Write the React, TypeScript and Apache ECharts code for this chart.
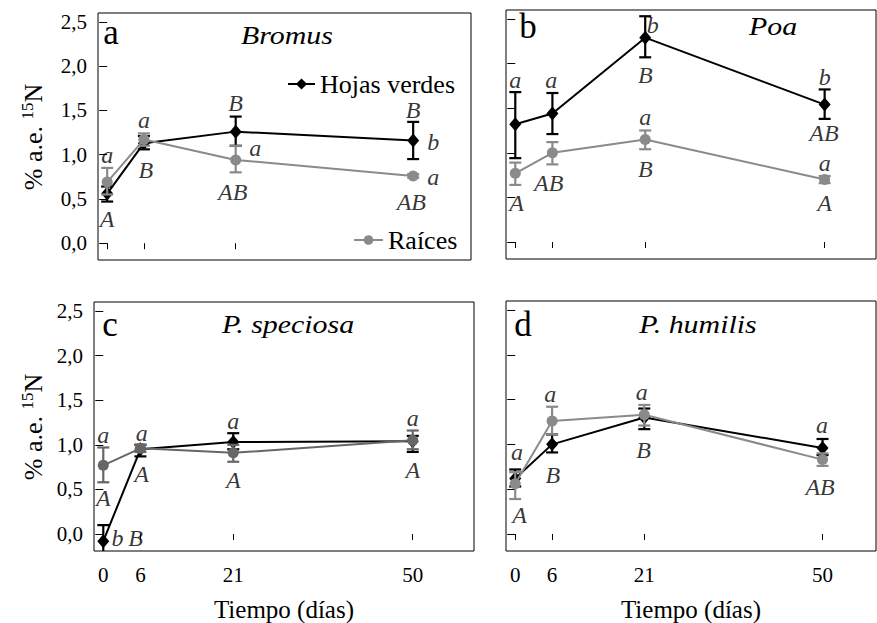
import React, { useEffect, useRef } from "react";
import * as echarts from "echarts";

// Sampling days (x positions) and tick values
const days = [0, 6, 21, 50];
const dayTicks = [0, 6, 21, 50];
const yTicks = [0, 0.5, 1, 1.5, 2, 2.5];

// Bromus
const bromusHojas = [0.56, 1.13, 1.26, 1.16];
const bromusHojasLow = [0.47, 1.06, 1.1, 0.95];
const bromusHojasHigh = [0.64, 1.21, 1.43, 1.37];
const bromusRaices = [0.69, 1.17, 0.94, 0.76];
const bromusRaicesLow = [0.55, 1.1, 0.8, 0.74];
const bromusRaicesHigh = [0.85, 1.24, 1.1, 0.78];

// Poa
const poaHojas = [1.32, 1.44, 2.29, 1.54];
const poaHojasLow = [0.94, 1.21, 2.07, 1.38];
const poaHojasHigh = [1.68, 1.67, 2.53, 1.71];
const poaRaices = [0.77, 1.0, 1.15, 0.7];
const poaRaicesLow = [0.64, 0.87, 1.04, 0.66];
const poaRaicesHigh = [0.89, 1.12, 1.25, 0.74];

// P. speciosa
const speciosaHojas = [-0.08, 0.95, 1.03, 1.04];
const speciosaHojasLow = [-0.27, 0.87, 0.95, 0.92];
const speciosaHojasHigh = [0.1, 1.0, 1.13, 1.1];
const speciosaRaices = [0.77, 0.96, 0.91, 1.05];
const speciosaRaicesLow = [0.58, 0.92, 0.81, 0.95];
const speciosaRaicesHigh = [0.97, 1.0, 1.0, 1.16];

// P. humilis
const humilisHojas = [0.62, 1.0, 1.3, 0.96];
const humilisHojasLow = [0.53, 0.91, 1.17, 0.88];
const humilisHojasHigh = [0.72, 1.11, 1.4, 1.06];
const humilisRaices = [0.56, 1.26, 1.33, 0.83];
const humilisRaicesLow = [0.39, 1.11, 1.21, 0.76];
const humilisRaicesHigh = [0.69, 1.42, 1.44, 0.9];

// Significance letters: [day, value, letter] in data units
const bromusLetters: [number, number, string][] = [
  [0, 1.0, "a"], [0, 0.27, "A"], [6, 1.39, "a"], [6.3, 0.83, "B"],
  [21, 1.58, "B"], [24.2, 1.07, "a"], [20.5, 0.58, "AB"],
  [50, 1.5, "B"], [53.3, 1.14, "b"], [53.3, 0.75, "a"], [49.7, 0.47, "AB"],
];
const poaLetters: [number, number, string][] = [
  [0, 1.82, "a"], [5.8, 1.82, "a"], [22.2, 2.43, "b"], [21, 1.87, "B"],
  [50, 1.85, "b"], [49.9, 1.22, "AB"], [21, 1.4, "a"], [21, 0.82, "B"],
  [50, 0.89, "a"], [50, 0.44, "A"], [5.4, 0.66, "AB"], [0.2, 0.44, "A"],
];
const speciosaLetters: [number, number, string][] = [
  [0, 1.11, "a"], [0, 0.4, "A"], [2.3, -0.04, "b"], [5.2, -0.04, "B"],
  [6.2, 1.13, "a"], [6.2, 0.67, "A"], [21, 1.27, "a"], [21, 0.61, "A"],
  [50, 1.3, "a"], [50, 0.72, "A"],
];
const humilisLetters: [number, number, string][] = [
  [0.3, 0.91, "a"], [0.7, 0.21, "A"], [5.7, 1.56, "a"], [6.1, 0.66, "B"],
  [20.6, 1.58, "a"], [20.9, 0.94, "B"], [49.9, 1.22, "a"], [49.6, 0.52, "AB"],
];

const SERIF = "Liberation Serif";

type Panel = {
  tag: string;
  species: string;
  hojas: number[];
  hojasLow: number[];
  hojasHigh: number[];
  raices: number[];
  raicesLow: number[];
  raicesHigh: number[];
  letters: [number, number, string][];
  grid: { left: number; top: number; width: number; height: number };
  xMax: number;
  yLabels: boolean;
  xLabels: boolean;
  grey: string;
  tagPos: [number, number];
  speciesPos: [number, number];
};

const panels: Panel[] = [
  {
    tag: "a", species: "Bromus",
    hojas: bromusHojas, hojasLow: bromusHojasLow, hojasHigh: bromusHojasHigh,
    raices: bromusRaices, raicesLow: bromusRaicesLow, raicesHigh: bromusRaicesHigh,
    letters: bromusLetters,
    grid: { left: 98, top: 13, width: 373, height: 247 }, xMax: 59.45,
    yLabels: true, xLabels: false, grey: "#8a8a8a",
    tagPos: [111, 32], speciesPos: [287, 35],
  },
  {
    tag: "b", species: "Poa",
    hojas: poaHojas, hojasLow: poaHojasLow, hojasHigh: poaHojasHigh,
    raices: poaRaices, raicesLow: poaRaicesLow, raicesHigh: poaRaicesHigh,
    letters: poaLetters,
    grid: { left: 506, top: 10, width: 370, height: 249 }, xMax: 58.3,
    yLabels: false, xLabels: false, grey: "#8a8a8a",
    tagPos: [528, 26], speciesPos: [773, 26],
  },
  {
    tag: "c", species: "P. speciosa",
    hojas: speciosaHojas, hojasLow: speciosaHojasLow, hojasHigh: speciosaHojasHigh,
    raices: speciosaRaices, raicesLow: speciosaRaicesLow, raicesHigh: speciosaRaicesHigh,
    letters: speciosaLetters,
    grid: { left: 94, top: 302, width: 380, height: 250 }, xMax: 59.9,
    yLabels: true, xLabels: true, grey: "#666666",
    tagPos: [110, 324], speciesPos: [288, 324],
  },
  {
    tag: "d", species: "P. humilis",
    hojas: humilisHojas, hojasLow: humilisHojasLow, hojasHigh: humilisHojasHigh,
    raices: humilisRaices, raicesLow: humilisRaicesLow, raicesHigh: humilisRaicesHigh,
    letters: humilisLetters,
    grid: { left: 506, top: 301, width: 370, height: 250 }, xMax: 58.7,
    yLabels: false, xLabels: true, grey: "#8a8a8a",
    tagPos: [523, 324], speciesPos: [698, 324],
  },
];

// Vertical error bar with caps, clipped to the plotting box
function errorBarRenderer(color: string, width: number) {
  return (params: any, api: any) => {
    const x = api.value(0);
    const pLo = api.coord([x, api.value(1)]);
    const pHi = api.coord([x, api.value(2)]);
    const cs = params.coordSys;
    const yTop = Math.max(pHi[1], cs.y);
    const yBot = Math.min(pLo[1], cs.y + cs.height);
    const cx = pLo[0];
    const hw = 6;
    const style = { stroke: color, lineWidth: width };
    const children: any[] = [
      { type: "line", shape: { x1: cx, y1: yTop, x2: cx, y2: yBot }, style },
    ];
    if (pHi[1] >= cs.y) {
      children.push({ type: "line", shape: { x1: cx - hw, y1: pHi[1], x2: cx + hw, y2: pHi[1] }, style });
    }
    if (pLo[1] <= cs.y + cs.height) {
      children.push({ type: "line", shape: { x1: cx - hw, y1: pLo[1], x2: cx + hw, y2: pLo[1] }, style });
    }
    return { type: "group", children };
  };
}

function buildOption() {
  const grid: any[] = [];
  const xAxis: any[] = [];
  const yAxis: any[] = [];
  const series: any[] = [];
  const graphic: any[] = [];

  panels.forEach((p, i) => {
    grid.push({ ...p.grid, show: true, borderColor: "#000", borderWidth: 1, backgroundColor: "transparent" });

    xAxis.push({
      type: "value",
      gridIndex: i,
      min: -1.5,
      max: p.xMax,
      offset: 2,
      axisLine: { show: false },
      splitLine: { show: false },
      axisTick: { show: true, customValues: dayTicks, length: 6, lineStyle: { color: "#000", width: 1 } },
      axisLabel: {
        show: p.xLabels,
        customValues: dayTicks,
        margin: 11,
        color: "#000",
        fontFamily: SERIF,
        fontSize: 21,
      },
      name: p.xLabels ? "Tiempo (días)" : "",
      nameLocation: "middle",
      nameGap: 44,
      nameTextStyle: { color: "#000", fontFamily: SERIF, fontSize: 25 },
    });

    yAxis.push({
      type: "value",
      gridIndex: i,
      min: -0.19,
      max: 2.6,
      axisLine: { show: false },
      splitLine: { show: false },
      axisTick: { show: true, customValues: yTicks, length: 8, lineStyle: { color: "#000", width: 1 } },
      axisLabel: {
        show: p.yLabels,
        customValues: yTicks,
        margin: 11,
        color: "#000",
        fontFamily: SERIF,
        fontSize: 21,
        formatter: (v: number) => v.toFixed(1).replace(".", ","),
      },
    });

    series.push({
      type: "custom",
      name: "hojas-err-" + p.tag,
      xAxisIndex: i,
      yAxisIndex: i,
      z: 2,
      silent: true,
      renderItem: errorBarRenderer("#000", 2.2),
      data: days.map((d, k) => [d, p.hojasLow[k], p.hojasHigh[k]]),
    });
    series.push({
      type: "line",
      name: "Hojas verdes",
      xAxisIndex: i,
      yAxisIndex: i,
      z: 3,
      symbol: "diamond",
      symbolSize: [12, 14],
      color: "#000",
      itemStyle: { color: "#000" },
      lineStyle: { color: "#000", width: 2 },
      data: days.map((d, k) => [d, p.hojas[k]]),
    });
    series.push({
      type: "custom",
      name: "raices-err-" + p.tag,
      xAxisIndex: i,
      yAxisIndex: i,
      z: 4,
      silent: true,
      renderItem: errorBarRenderer(p.grey, 2.2),
      data: days.map((d, k) => [d, p.raicesLow[k], p.raicesHigh[k]]),
    });
    series.push({
      type: "line",
      name: "Raíces",
      xAxisIndex: i,
      yAxisIndex: i,
      z: 5,
      symbol: "circle",
      symbolSize: 11,
      color: p.grey,
      itemStyle: { color: p.grey },
      lineStyle: { color: p.grey, width: 2 },
      data: days.map((d, k) => [d, p.raices[k]]),
    });
    series.push({
      type: "scatter",
      name: "letras-" + p.tag,
      xAxisIndex: i,
      yAxisIndex: i,
      z: 6,
      silent: true,
      symbolSize: 1,
      itemStyle: { color: "transparent" },
      label: {
        show: true,
        position: "inside",
        formatter: "{b}",
        color: "#000",
        fontFamily: SERIF,
        fontStyle: "italic",
        fontSize: 24,
      },
      data: p.letters.map(([x, y, t]) => ({ name: t, value: [x, y] })),
    });

    graphic.push({
      type: "text",
      x: p.tagPos[0],
      y: p.tagPos[1],
      style: { text: p.tag, fill: "#000", fontFamily: SERIF, fontSize: 35, align: "center", verticalAlign: "middle" },
    });
    graphic.push({
      type: "text",
      x: p.speciesPos[0],
      y: p.speciesPos[1],
      scaleX: 1.15,
      style: {
        text: p.species, fill: "#000", fontFamily: SERIF, fontStyle: "italic", fontSize: 26,
        align: "center", verticalAlign: "middle",
      },
    });
  });

  // Y axis titles for both rows
  [137, 427].forEach((cy) => {
    graphic.push({
      type: "text",
      x: 33,
      y: cy,
      rotation: Math.PI / 2,
      style: {
        text: "{n|% a.e. }{s|15}{n|N}",
        align: "center",
        verticalAlign: "middle",
        fill: "#000",
        fontFamily: SERIF,
        rich: {
          n: { fontFamily: SERIF, fontSize: 26, fill: "#000" },
          s: { fontFamily: SERIF, fontSize: 17, fill: "#000", padding: [0, 0, 12, 0] },
        },
      },
    });
  });

  const legendText = { color: "#000", fontFamily: SERIF, fontSize: 26 };
  const legend = [
    {
      data: ["Hojas verdes"],
      left: 287,
      top: 71,
      padding: 0,
      itemWidth: 27,
      itemHeight: 14,
      selectedMode: false,
      textStyle: legendText,
    },
    {
      data: ["Raíces"],
      left: 353,
      top: 227,
      padding: 0,
      itemWidth: 29,
      itemHeight: 12,
      selectedMode: false,
      textStyle: legendText,
    },
  ];

  return {
    animation: false,
    backgroundColor: "#fff",
    textStyle: { fontFamily: SERIF },
    grid,
    xAxis,
    yAxis,
    series,
    graphic,
    legend,
  };
}

export default function App() {
  const ref = useRef<HTMLDivElement>(null);
  useEffect(() => {
    document.body.style.margin = "0";
    if (!ref.current) return;
    const chart = echarts.init(ref.current, undefined, { renderer: "svg" });
    chart.setOption(buildOption() as any);
    return () => chart.dispose();
  }, []);
  return (
    <div>
      <div ref={ref} style={{ width: 877, height: 623 }} />
    </div>
  );
}
